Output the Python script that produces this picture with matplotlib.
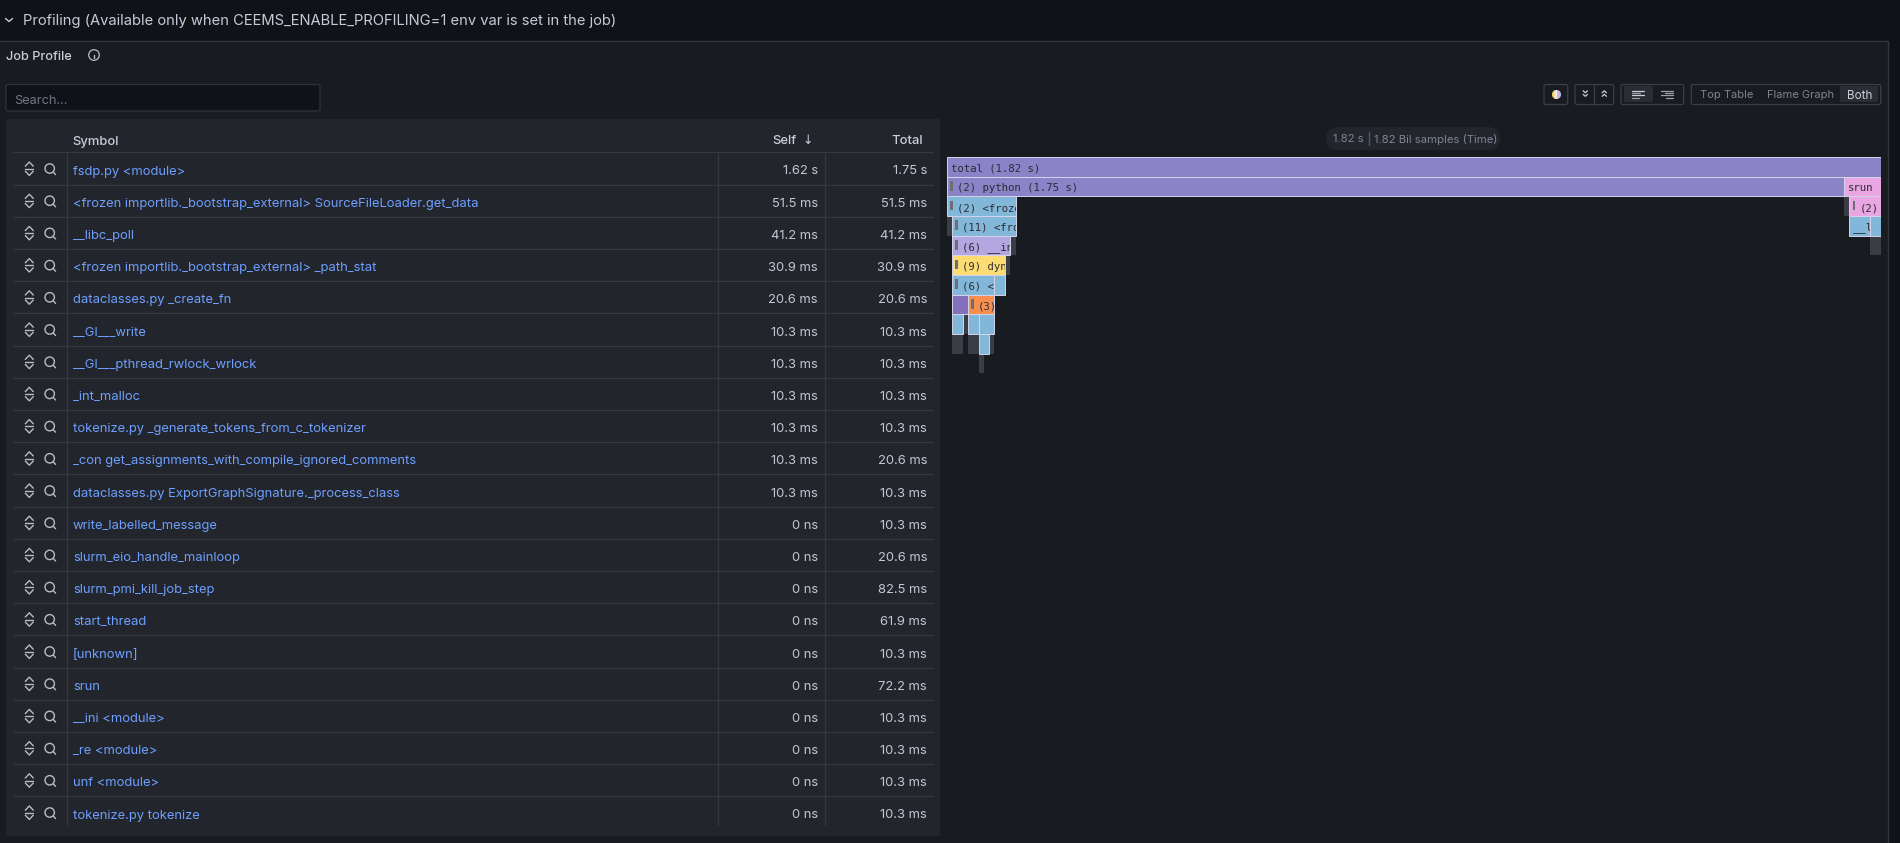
import matplotlib
matplotlib.use("Agg")
import matplotlib.pyplot as plt
from matplotlib.patches import Rectangle, FancyBboxPatch, Circle

plt.rcParams['font.family'] = ['Inter', 'DejaVu Sans']

# ---- data ----
symbols = [
    "fsdp.py <module>",
    "<frozen importlib._bootstrap_external> SourceFileLoader.get_data",
    "__libc_poll",
    "<frozen importlib._bootstrap_external> _path_stat",
    "dataclasses.py _create_fn",
    "__GI___write",
    "__GI___pthread_rwlock_wrlock",
    "_int_malloc",
    "tokenize.py _generate_tokens_from_c_tokenizer",
    "_con get_assignments_with_compile_ignored_comments",
    "dataclasses.py ExportGraphSignature._process_class",
    "write_labelled_message",
    "slurm_eio_handle_mainloop",
    "slurm_pmi_kill_job_step",
    "start_thread",
    "[unknown]",
    "srun",
    "__ini <module>",
    "_re <module>",
    "unf <module>",
    "tokenize.py tokenize",
]
self_times = ["1.62 s", "51.5 ms", "41.2 ms", "30.9 ms", "20.6 ms", "10.3 ms", "10.3 ms",
              "10.3 ms", "10.3 ms", "10.3 ms", "10.3 ms", "0 ns", "0 ns", "0 ns", "0 ns",
              "0 ns", "0 ns", "0 ns", "0 ns", "0 ns", "0 ns"]
total_times = ["1.75 s", "51.5 ms", "41.2 ms", "30.9 ms", "20.6 ms", "10.3 ms", "10.3 ms",
               "10.3 ms", "10.3 ms", "20.6 ms", "10.3 ms", "10.3 ms", "20.6 ms", "82.5 ms",
               "61.9 ms", "10.3 ms", "72.2 ms", "10.3 ms", "10.3 ms", "10.3 ms", "10.3 ms"]

# flame graph frames, in samples of 10.3 ms
frame_level = [0, 1, 1, 2, 2, 2, 3, 3, 3, 3, 4, 4, 4, 5, 5, 6, 6, 7, 7, 8, 8, 8, 8, 9, 9, 9, 9, 10]
frame_start = [0, 0, 170, 0, 170, 171, 0, 1, 171, 175, 1, 12, 175, 1, 11, 1, 9, 1, 4, 1, 3, 4, 6, 1, 4, 6, 8, 6]
frame_width = [177, 170, 7, 13, 1, 6, 1, 12, 4, 2, 11, 1, 2, 10, 1, 8, 2, 3, 5, 2, 1, 2, 3, 2, 2, 2, 1, 1]
frame_kind = ["base", "base", "pink", "blue", "dark", "pink", "dark", "blue", "blue", "blue",
              "lav", "dark", "dark", "yellow", "dark", "blue", "blue", "deep", "orange",
              "blue", "dark", "blue", "blue", "dark", "dark", "blue", "dark", "dark"]
frame_label = ["total (1.82 s)", "(2) python (1.75 s)", "srun", "(2) <frozen", "", "(2)", "",
               "(11) <frozen", "__libc", "", "(6) __init", "", "", "(9) dynamic", "",
               "(6) <frozen", "", "", "(3)", "", "", "", "", "", "", "", "", ""]
frame_marker = [0, 1, 0, 1, 0, 1, 0, 1, 0, 0, 1, 0, 0, 1, 0, 1, 0, 0, 1, 0, 0, 0, 0, 0, 0, 0, 0, 0]
total_samples = 177
n_levels = 11

# ---- styling ----
PAGE = "#111217"
PANEL = "#181b1f"
TABLE = "#22252b"
LINE = "#35383f"
TEXT = "#ccccdc"
MUTED = "#7e8494"
LINK = "#6e9fff"
ICON = "#b9bcc6"
KIND = {"base": "#8a83c8", "pink": "#e9a6e2", "blue": "#83b7d9", "lav": "#b3a6e1",
        "yellow": "#fedc74", "orange": "#f98f4f", "deep": "#8570bb", "dark": "#3a3d46"}
EDGE = "#d3d5ea"

fig = plt.figure(figsize=(19, 8.43), dpi=100, facecolor=PAGE)
ax = fig.add_axes([0, 0, 1, 1])
ax.set_xlim(0, 1900)
ax.set_ylim(843, 0)
ax.axis("off")


def line(xs, ys, color=LINE, lw=0.9, z=3):
    ax.plot(xs, ys, color=color, lw=lw, zorder=z, solid_capstyle="round", solid_joinstyle="round")


def box(x0, y0, x1, y1, fc="none", ec="none", lw=0.9, z=2, r=0):
    if r:
        p = FancyBboxPatch((x0 + r, y0 + r), x1 - x0 - 2 * r, y1 - y0 - 2 * r,
                           boxstyle=f"round,pad={r},rounding_size={r}", fc=fc, ec=ec, lw=lw, zorder=z)
    else:
        p = Rectangle((x0, y0), x1 - x0, y1 - y0, fc=fc, ec=ec, lw=lw, zorder=z)
    ax.add_patch(p)
    return p


def label(x, y, s, color=TEXT, size=9.35, ha="left", **kw):
    ax.text(x, y, s, color=color, fontsize=size, ha=ha, va="center_baseline", zorder=6, **kw)


# page chrome
box(0, 40.5, 1888, 843, fc=PANEL, z=1)
line([0, 1888, 1888], [40.5, 40.5, 843], color="#33363c", lw=1.0)
line([5.5, 9, 12.5], [18.5, 21.5, 18.5], color=TEXT, lw=1.0)
label(23, 20, "Profiling (Available only when CEEMS_ENABLE_PROFILING=1 env var is set in the job)",
      size=10.6, color="#c6cad8")
label(6, 55.5, "Job Profile", size=9.2, weight="medium")
ax.add_patch(Circle((94, 55), 5.3, fc="none", ec=ICON, lw=0.9, zorder=3))
line([94, 94], [54.5, 58], color=ICON, lw=1.0)
line([94, 94], [52, 52.3], color=ICON, lw=1.1)

# search
box(6, 84.5, 320, 111, fc=PAGE, ec="#2f3238", r=2)
label(14.5, 99, "Search...", color="#6f7585", size=9.2)

# toolbar
box(1544, 84.5, 1567.7, 104.5, ec="#3b3e45", r=2)
clip_disc = Circle((1556.5, 94.5), 4.6, fc="none", ec="none", zorder=4)
ax.add_patch(clip_disc)
for i, c in enumerate(["#f2cf6a", "#f2e8a0", "#f0f0f0", "#e9a6e2", "#9fc4e4"]):
    stripe = box(1551.9 + i * 1.84, 89.9, 1553.75 + i * 1.84, 99.1, fc=c, z=4)
    stripe.set_clip_path(clip_disc)
box(1575, 84.5, 1613.7, 104.5, ec="#3b3e45", r=2)
line([1594.3, 1594.3], [84.5, 104.5], color="#3b3e45")
for cx, d in ((1585.3, 1), (1604.3, -1)):
    for dy in (-2.2, 1.3):
        line([cx - 2.2, cx, cx + 2.2], [94 + dy - d, 94 + dy + d, 94 + dy - d], color=TEXT, lw=0.9)
box(1621, 84.5, 1683.7, 104.5, ec="#3b3e45", r=2)
box(1624, 86, 1653, 102, fc="#2a2d33", r=2)
for k, (dx, c) in enumerate(((6, TEXT), (4, "#9a9dab"), (6, TEXT), (3.5, "#9a9dab"))):
    line([1632, 1632 + 2 * dx], [90.5 + k * 2.4, 90.5 + k * 2.4], color=c, lw=0.9)
    line([1673, 1673 - 2 * dx], [90.5 + k * 2.4, 90.5 + k * 2.4], color="#9a9dab", lw=0.9)
box(1691.3, 84.5, 1880.7, 104.5, ec="#3b3e45", r=2)
box(1840, 86, 1878, 102, fc="#2a2d33", r=2)
label(1700.5, 94.5, "Top Table", color=MUTED, size=8.0)
label(1766.7, 94.5, "Flame Graph", color=MUTED, size=8.0)
label(1847.3, 94.5, "Both", color=TEXT, size=8.4)

# table
box(6, 119, 940, 836, fc=TABLE, z=1.5)
ROW0 = 152.3
ROWH = 32.2
label(72.8, 140, "Symbol", weight="medium")
label(797, 140, "Self", ha="right", weight="medium")
label(808, 139.5, "\u2193", ha="center", size=9, family=["DejaVu Sans"])
label(923.5, 140, "Total", ha="right", weight="medium")
line([13, 933], [ROW0, ROW0])
n = len(symbols)
line([67, 67], [ROW0, ROW0 + n * ROWH - 4], color=LINE)
line([717.5, 717.5], [ROW0, ROW0 + n * ROWH - 4], color=LINE)
line([824.5, 824.5], [ROW0, ROW0 + n * ROWH - 4], color=LINE)
for i, (sym, s, t) in enumerate(zip(symbols, self_times, total_times)):
    top = ROW0 + i * ROWH
    cy = top + ROWH / 2 + 1.6
    icy = top + ROWH / 2 + 0.6
    if i < n - 1:
        line([13, 933], [top + ROWH, top + ROWH])
    label(73, cy, sym, color=LINK)
    label(818, cy, s, ha="right", color="#c4c7d2")
    label(927, cy, t, ha="right", color="#c4c7d2")
    # expand and sandwich icons
    line([25.3, 29.3, 33.3], [icy - 2.8, icy - 7, icy - 2.8], color=ICON, lw=1.0)
    line([25.3, 33.3], [icy - 0.2, icy - 0.2], color=ICON, lw=1.0)
    line([25.3, 29.3, 33.3], [icy + 2.2, icy + 6.4, icy + 2.2], color=ICON, lw=1.0)
    ax.add_patch(Circle((49.7, icy - 0.5), 4.7, fc="none", ec=ICON, lw=1.0, zorder=3))
    line([53.2, 55.6], [icy + 3, icy + 5.6], color=ICON, lw=1.0)

# tooltip pill
box(1326, 127, 1500, 150, fc="#22252b", r=11.5)
label(1333, 138.5, "1.82 s", color=MUTED, size=8.15)
line([1368.7, 1368.7], [132, 145], color="#3d5c86", lw=1.0, z=5)
label(1374, 138.5, "1.82 Bil samples (Time)", color=MUTED, size=8.15)

# flame graph
FX0, FX1, FY0, STEP = 947, 1881, 157, 19.65
fa = fig.add_axes([FX0 / 1900, 1 - (FY0 + STEP * n_levels) / 843, (FX1 - FX0) / 1900, STEP * n_levels / 843])
fa.set_xlim(0, total_samples)
fa.set_ylim(n_levels, 0)
fa.axis("off")
fa.patch.set_alpha(0)
per_px = total_samples / (FX1 - FX0)
order = sorted(range(len(frame_level)), key=lambda j: (frame_kind[j] != "dark", frame_level[j]))
for j in order:
    lev, st, w, kind = frame_level[j], frame_start[j], frame_width[j], frame_kind[j]
    is_dark = kind == "dark"
    r = Rectangle((st, lev), w, 1, fc=KIND[kind], ec="none" if is_dark else EDGE,
                  lw=0 if is_dark else 0.7, zorder=2 if is_dark else 3)
    fa.add_patch(r)
    if frame_marker[j]:
        fa.add_patch(Rectangle((st + 3.2 * per_px, lev + 0.22), 2.8 * per_px, 0.5,
                               fc="#6d6d75", ec="none", zorder=4))
    if frame_label[j]:
        off = (10 if frame_marker[j] else 4) * per_px
        t = fa.text(st + off, lev + 0.6, frame_label[j], family="DejaVu Sans Mono", fontsize=7.7,
                    color="#2b2c33", va="center", ha="left", zorder=5)
        t.set_clip_path(r)
        t.set_clip_on(True)

fig.savefig("out.png", dpi=100, facecolor=PAGE)
